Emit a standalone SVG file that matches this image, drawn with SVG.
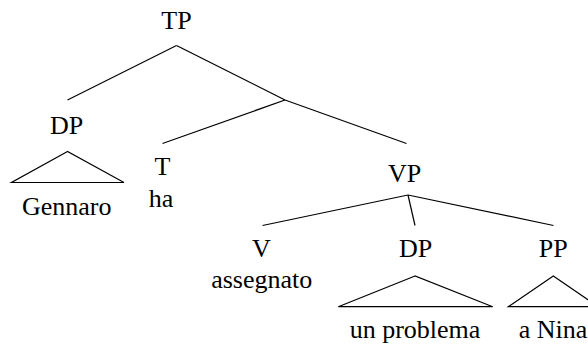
<svg xmlns="http://www.w3.org/2000/svg" width="588" height="345" viewBox="0 0 588 345">
  <style>
    .lbl { font-family: 'Liberation Serif', 'DejaVu Serif', serif; font-size: 26px; fill: #000; text-anchor: middle; }
    .edge { stroke: #000; stroke-width: 1.2; fill: none; }
    .tri { stroke: #000; stroke-width: 1.2; fill: none; stroke-linejoin: miter; }
  </style>
  <rect width="588" height="345" fill="#fff"/>

  <!-- branches -->
  <g id="connectors">
    <line class="edge" x1="176.5" y1="45.5" x2="67.5" y2="100"/>
    <line class="edge" x1="176.5" y1="45.5" x2="285" y2="100"/>
    <line class="edge" x1="285" y1="100" x2="162.5" y2="143.5"/>
    <line class="edge" x1="285" y1="100" x2="406.5" y2="143.5"/>
    <line class="edge" x1="408" y1="195" x2="262.5" y2="225.5"/>
    <line class="edge" x1="408" y1="195" x2="415" y2="225.5"/>
    <line class="edge" x1="408" y1="195" x2="553.5" y2="225.5"/>
  </g>

  <g id="node-TP">
    <text class="lbl" x="176.5" y="28.5">TP</text>
  </g>

  <g id="node-DP-subject">
    <text class="lbl" x="66.7" y="133.5">DP</text>
    <polygon class="tri" points="67.5,151.5 11.5,182.5 124,182.5"/>
    <text class="lbl" x="66.7" y="215">Gennaro</text>
  </g>

  <g id="node-T">
    <text class="lbl" x="162.5" y="175">T</text>
    <text class="lbl" x="161" y="206.5">ha</text>
  </g>

  <g id="node-VP">
    <text class="lbl" x="404.5" y="182">VP</text>
  </g>

  <g id="node-V">
    <text class="lbl" x="261.5" y="256.7">V</text>
    <text class="lbl" x="261.7" y="288.3">assegnato</text>
  </g>

  <g id="node-DP-object">
    <text class="lbl" x="415.5" y="256.7">DP</text>
    <polygon class="tri" points="415,276 338.3,306.7 492.7,306.7"/>
    <text class="lbl" x="415" y="338.3">un problema</text>
  </g>

  <g id="node-PP">
    <text class="lbl" x="553.3" y="256.7">PP</text>
    <polygon class="tri" points="553.3,276 508.3,306.7 598.3,306.7"/>
    <text class="lbl" x="553" y="338.3">a Nina</text>
  </g>
</svg>
